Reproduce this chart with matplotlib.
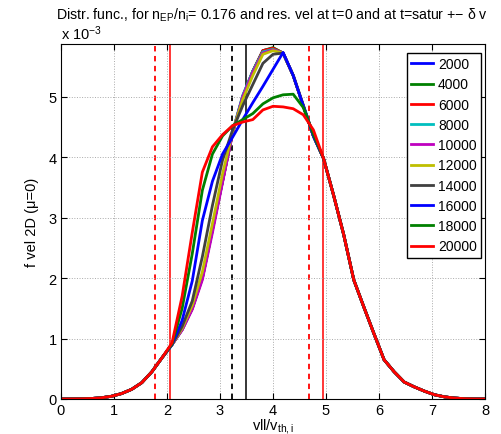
import numpy as np
import matplotlib
matplotlib.use("Agg")
from matplotlib import pyplot as plt

plt.rcParams['font.family'] = ['Liberation Sans', 'DejaVu Sans']
plt.rcParams['mathtext.fontset'] = 'custom'
plt.rcParams['mathtext.rm'] = 'Liberation Sans'
plt.rcParams['mathtext.it'] = 'Liberation Sans:italic'

# velocity grid (vll / v_th,i), 43 points from 0 to 8
vel = np.linspace(0, 8, 43)

# f values in units of 1e-3
# shared low-velocity part (vel 0 .. 1.90)
f_left = [0, 0.001, 0.003, 0.008, 0.02, 0.045, 0.09, 0.16, 0.27, 0.45, 0.68]
# shared high-velocity part (vel 4.95 .. 8)
f_right = [3.98, 3.37, 2.72, 1.97, 1.52, 1.08, 0.65, 0.45, 0.28, 0.2, 0.13,
           0.07, 0.035, 0.015, 0.005, 0.001, 0]

# middle part (vel 2.10 .. 4.76), one list per time
times = [2000, 4000, 6000, 8000, 10000, 12000, 14000, 16000, 18000, 20000]
f_mid = {
    2000:  [0.9, 1.15, 1.5, 2.0, 2.8, 3.6, 4.4, 5.0, 5.42, 5.76, 5.8, 5.72, 5.35, 4.85, 4.35],
    4000:  [0.9, 1.15, 1.5, 2.0, 2.8, 3.6, 4.4, 5.0, 5.42, 5.76, 5.81, 5.72, 5.35, 4.85, 4.35],
    6000:  [0.9, 1.15, 1.5, 2.0, 2.8, 3.6, 4.4, 5.0, 5.42, 5.76, 5.8, 5.72, 5.35, 4.85, 4.35],
    8000:  [0.9, 1.15, 1.5, 2.0, 2.8, 3.62, 4.42, 5.02, 5.42, 5.74, 5.78, 5.72, 5.35, 4.85, 4.35],
    10000: [0.9, 1.14, 1.48, 1.97, 2.75, 3.58, 4.4, 5.0, 5.4, 5.72, 5.77, 5.72, 5.35, 4.85, 4.35],
    12000: [0.9, 1.17, 1.55, 2.1, 2.9, 3.72, 4.42, 4.95, 5.35, 5.7, 5.76, 5.72, 5.35, 4.85, 4.35],
    14000: [0.9, 1.2, 1.62, 2.35, 3.2, 3.95, 4.45, 4.85, 5.2, 5.55, 5.7, 5.72, 5.35, 4.85, 4.35],
    16000: [0.9, 1.3, 1.95, 2.95, 3.6, 4.05, 4.33, 4.62, 4.9, 5.17, 5.45, 5.73, 5.35, 4.85, 4.35],
    18000: [0.91, 1.5, 2.4, 3.45, 4.05, 4.35, 4.52, 4.62, 4.72, 4.88, 4.98, 5.03, 5.04, 4.82, 4.38],
    20000: [0.93, 1.7, 2.75, 3.75, 4.17, 4.37, 4.52, 4.58, 4.62, 4.78, 4.84, 4.83, 4.8, 4.7, 4.45],
}
colors = ['#0000ff', '#008000', '#ff0000', '#00bfbf', '#bf00bf',
          '#bfbf00', '#404040', '#0000ff', '#008000', '#ff0000']

# resonant velocity markers
v_res0 = 3.49      # t=0
v_res0_lo = 3.23
v_sat = [2.06, 4.94]      # t=satur
v_sat_lo = [1.77, 4.68]   # +- delta v

fig = plt.figure(figsize=(5.02, 4.35), dpi=100)
ax = fig.add_axes([61/502, 35/435, 424/502, 355/435])

for v in v_sat:
    ax.axvline(v, color='r', lw=1.1, zorder=1)
for v in v_sat_lo:
    ax.axvline(v, color='r', lw=1.3, ls='--', dashes=(3, 2.5), zorder=1)
ax.axvline(v_res0, color='k', lw=1.1, zorder=1)
ax.axvline(v_res0_lo, color='k', lw=1.3, ls='--', dashes=(3, 2.5), zorder=1)

for t, c in zip(times, colors):
    f = np.array(f_left + f_mid[t] + f_right)
    ax.plot(vel, f, color=c, lw=2, label=str(t), zorder=2)

ax.set_xlim(0, 8)
ax.set_ylim(0, 5.87)
ax.set_xticks(range(0, 9))
ax.set_yticks(range(0, 6))
ax.grid(True, ls=':', color='#aaaaaa', lw=0.7)
ax.tick_params(direction='in', length=4, top=True, right=True, labelsize=10.5, pad=3)
for s in ax.spines.values():
    s.set_linewidth(0.8)

ax.set_xlabel('vll/v$_{\\mathrm{th,i}}$', fontsize=10.5, labelpad=-1)
ax.set_ylabel('f vel 2D (\u03bc=0)', fontsize=10.5, labelpad=7)
ax.text(0.0, 1.005, 'x 10$^{\\mathrm{\u22123}}$', transform=ax.transAxes,
        fontsize=10.5, ha='left', va='bottom')

fig.text(272/502, 1 - 15/435,
         'Distr. func., for n$_{\\mathrm{EP}}$/n$_{\\mathrm{i}}$= 0.176 and res. vel at t=0 and at t=satur +\u2212 \u03b4 v',
         fontsize=10.2, ha='center', va='center')

leg = ax.legend(loc='upper right', bbox_to_anchor=(0.9906, 0.9746), borderaxespad=0,
                fontsize=10, labelspacing=0.45, handlelength=1.6, handletextpad=0.35,
                borderpad=0.3, fancybox=False, framealpha=1, edgecolor='k')
leg.get_frame().set_linewidth(1.0)

fig.savefig('out.png', dpi=100)
